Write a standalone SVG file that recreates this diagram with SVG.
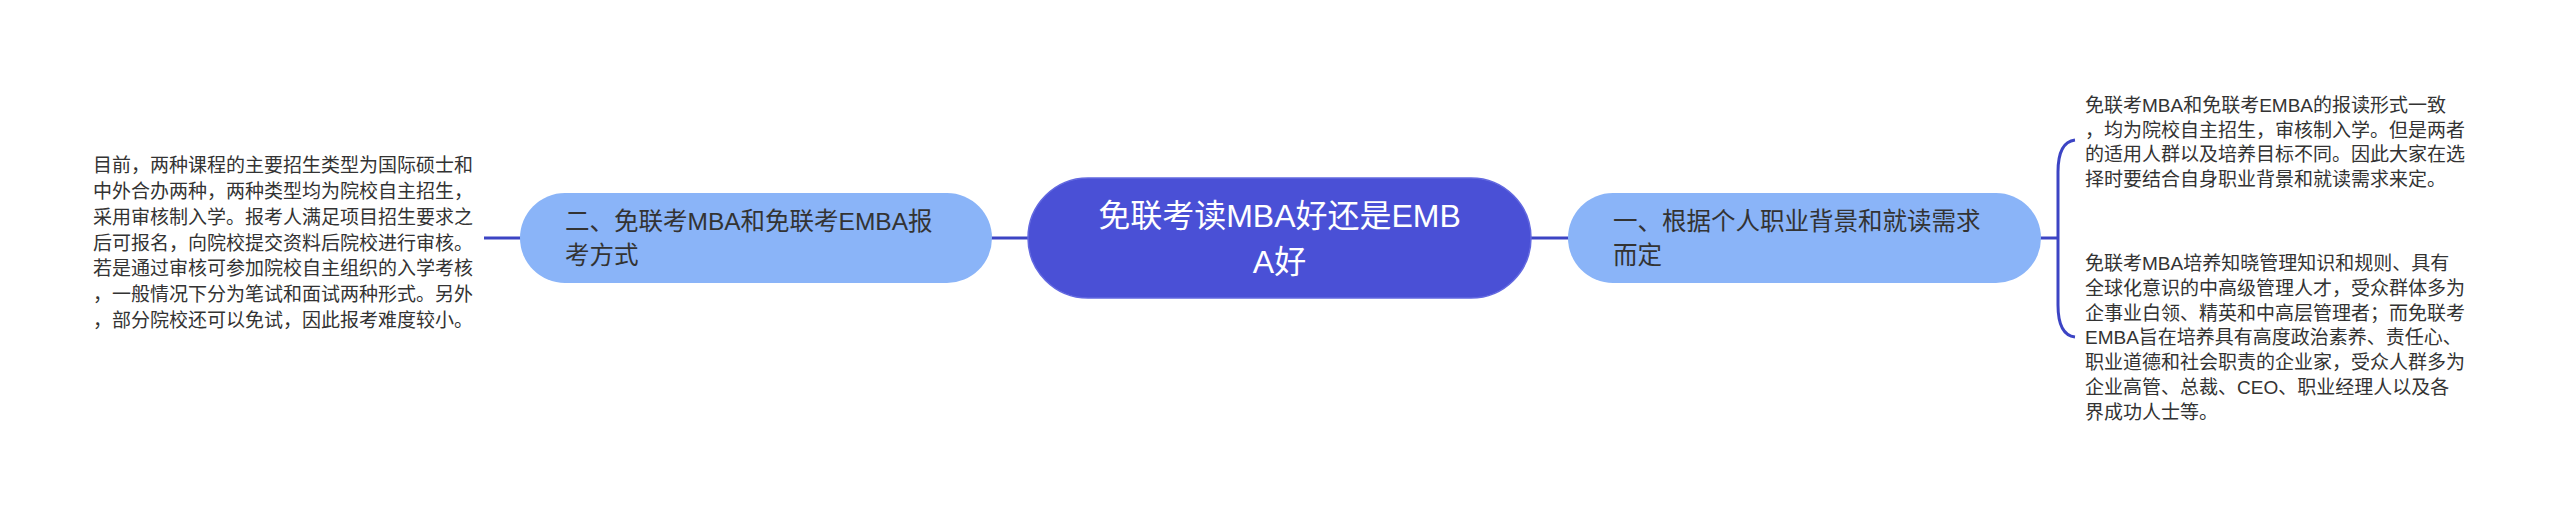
<svg xmlns="http://www.w3.org/2000/svg" width="2560" height="514" viewBox="0 0 2560 514">
<style>
.t{font-family:"Liberation Sans","Noto Sans CJK SC",sans-serif;fill:#333333}
.s{font-size:19px}
.n{font-size:24.5px}
.c{font-family:"Liberation Sans","Noto Sans CJK SC",sans-serif;font-size:32px;fill:#ffffff}
.lt{fill:#8ab4f8}
.ln{fill:none;stroke:#3c44c4;stroke-width:3}
</style>
<rect width="2560" height="514" fill="#ffffff"/>
<g id="connectors">
<line class="ln" x1="484" y1="238" x2="521" y2="238"/>
<line class="ln" x1="990" y1="238" x2="1030" y2="238"/>
<line class="ln" x1="1529" y1="238" x2="1570" y2="238"/>
<line class="ln" x1="2039" y1="238" x2="2058" y2="238"/>
<path class="ln" d="M2075,140 Q2058,142 2058,172 L2058,305 Q2058,335 2075,337"/>
</g>
<g id="root">
<rect x="1028" y="178" width="503" height="120" rx="60" fill="#4a50d6" stroke="#6268e0" stroke-width="1.5"/>
<text class="c" x="1279.5" y="227" text-anchor="middle">免联考读MBA好还是EMB</text>
<text class="c" x="1279.5" y="273" text-anchor="middle">A好</text>
</g>
<g id="node-left">
<rect class="lt" x="520" y="193" width="472" height="90" rx="45"/>
<text class="t n" x="565" y="230">二、免联考MBA和免联考EMBA报</text>
<text class="t n" x="565" y="264">考方式</text>
</g>
<g id="node-right">
<rect class="lt" x="1568" y="193" width="473" height="90" rx="45"/>
<text class="t n" x="1613" y="230">一、根据个人职业背景和就读需求</text>
<text class="t n" x="1613" y="264">而定</text>
</g>
<g id="leaf-left">
<text class="t s" x="93" y="172">目前，两种课程的主要招生类型为国际硕士和</text>
<text class="t s" x="93" y="198">中外合办两种，两种类型均为院校自主招生，</text>
<text class="t s" x="93" y="224">采用审核制入学。报考人满足项目招生要求之</text>
<text class="t s" x="93" y="250">后可报名，向院校提交资料后院校进行审核。</text>
<text class="t s" x="93" y="275">若是通过审核可参加院校自主组织的入学考核</text>
<text class="t s" x="93" y="301">，一般情况下分为笔试和面试两种形式。另外</text>
<text class="t s" x="93" y="327">，部分院校还可以免试，因此报考难度较小。</text>
</g>
<g id="leaf-right-1">
<text class="t s" x="2085" y="112">免联考MBA和免联考EMBA的报读形式一致</text>
<text class="t s" x="2085" y="136.5">，均为院校自主招生，审核制入学。但是两者</text>
<text class="t s" x="2085" y="161">的适用人群以及培养目标不同。因此大家在选</text>
<text class="t s" x="2085" y="185.5">择时要结合自身职业背景和就读需求来定。</text>
</g>
<g id="leaf-right-2">
<text class="t s" x="2085" y="270">免联考MBA培养知晓管理知识和规则、具有</text>
<text class="t s" x="2085" y="295">全球化意识的中高级管理人才，受众群体多为</text>
<text class="t s" x="2085" y="320">企事业白领、精英和中高层管理者；而免联考</text>
<text class="t s" x="2085" y="344">EMBA旨在培养具有高度政治素养、责任心、</text>
<text class="t s" x="2085" y="369">职业道德和社会职责的企业家，受众人群多为</text>
<text class="t s" x="2085" y="394">企业高管、总裁、CEO、职业经理人以及各</text>
<text class="t s" x="2085" y="419">界成功人士等。</text>
</g>
</svg>
